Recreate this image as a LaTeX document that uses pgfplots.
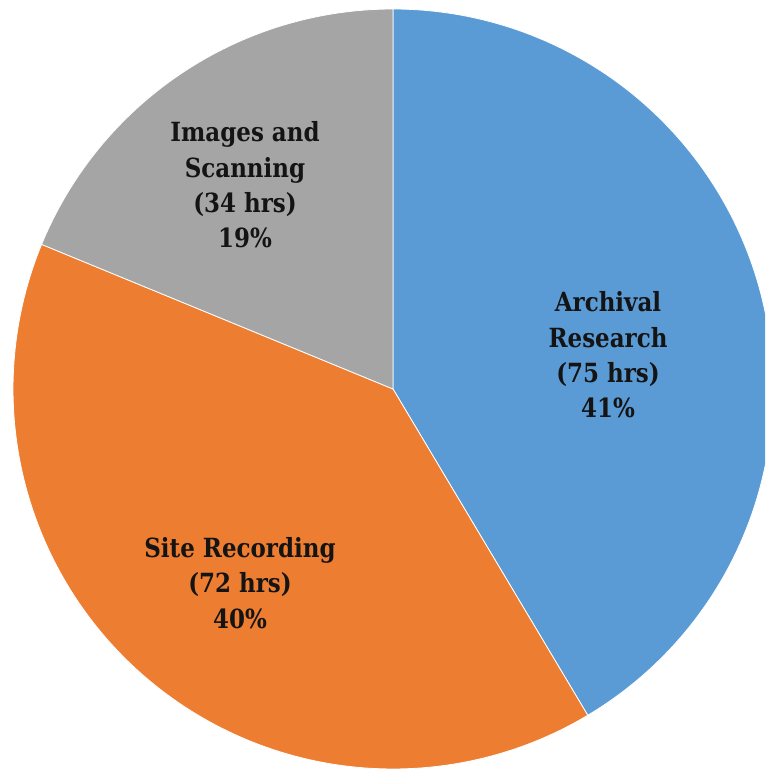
\documentclass[border=0pt]{standalone}
\usepackage{pgfplots}
\pgfplotsset{compat=1.18}
\usepackage{fontspec}
\setmainfont{DejaVu Serif}
\newfontfamily\lblfont[FakeStretch=0.87]{DejaVu Serif}
\definecolor{pieblue}{HTML}{5B9BD5}
\definecolor{pieorange}{HTML}{ED7D31}
\definecolor{piegray}{HTML}{A5A5A5}
% data (hours)
\def\vA{75}\def\vS{72}\def\vI{34}
\pgfmathsetmacro{\tot}{\vA+\vS+\vI}
\pgfmathsetmacro{\aA}{90-(\vA/\tot)*360}
\pgfmathsetmacro{\aS}{\aA-(\vS/\tot)*360}
\pgfmathsetmacro{\aI}{\aS-(\vI/\tot)*360}
\def\cx{393}\def\cy{381}\def\R{380}
\begin{document}
\begin{tikzpicture}
\begin{axis}[
  scale only axis, width=765bp, height=770bp,
  xmin=0, xmax=765, ymin=0, ymax=770,
  hide axis, clip=true,
]
\addplot[fill=pieblue, draw=white, line width=0.8pt, domain=\aA:90, samples=120, variable=\t]
  ({\cx+\R*cos(t)},{\cy+\R*sin(t)}) -- (axis cs:\cx,\cy) -- cycle;
\addplot[fill=pieorange, draw=white, line width=0.8pt, domain=\aS:\aA, samples=120, variable=\t]
  ({\cx+\R*cos(t)},{\cy+\R*sin(t)}) -- (axis cs:\cx,\cy) -- cycle;
\addplot[fill=piegray, draw=white, line width=0.8pt, domain=\aI:\aS, samples=80, variable=\t]
  ({\cx+\R*cos(t)},{\cy+\R*sin(t)}) -- (axis cs:\cx,\cy) -- cycle;
\node[align=center, text=black!92, font={\lblfont\fontsize{26.5}{35.5}\selectfont\bfseries}] at (axis cs:608,415) {Archival\\Research\\(75 hrs)\\41\%};
\node[align=center, text=black!92, font={\lblfont\fontsize{26.5}{35.5}\selectfont\bfseries}] at (axis cs:245,585) {Images and\\Scanning\\(34 hrs)\\19\%};
\node[align=center, text=black!92, font={\lblfont\fontsize{26.5}{35.5}\selectfont\bfseries}] at (axis cs:240,187) {Site Recording\\(72 hrs)\\40\%};
\coordinate (bl) at (axis cs:0,0);
\coordinate (tr) at (axis cs:765,770);
\end{axis}
\pgfresetboundingbox
\path[use as bounding box] (bl) rectangle (tr);
\end{tikzpicture}
\end{document}
